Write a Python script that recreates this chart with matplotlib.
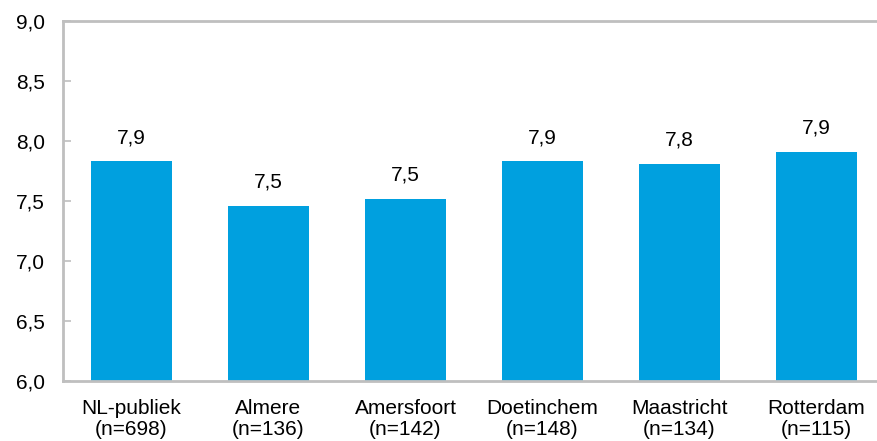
import matplotlib
matplotlib.use("Agg")
from matplotlib import pyplot as plt

# data
categories = ["NL-publiek\n(n=698)", "Almere\n(n=136)", "Amersfoort\n(n=142)",
              "Doetinchem\n(n=148)", "Maastricht\n(n=134)", "Rotterdam\n(n=115)"]
scores = [7.83, 7.46, 7.52, 7.83, 7.81, 7.91]
score_labels = ["7,9", "7,5", "7,5", "7,9", "7,8", "7,9"]
yticks = [6.0, 6.5, 7.0, 7.5, 8.0, 8.5, 9.0]
ytick_labels = ["6,0", "6,5", "7,0", "7,5", "8,0", "8,5", "9,0"]

plt.rcParams['font.family'] = ['Liberation Sans', 'DejaVu Sans']

fig = plt.figure(figsize=(8.77, 4.41), dpi=100)
# axes runs past the right edge, like the cropped original
ax = fig.add_axes([63 / 877, 60 / 441, 822 / 877, 360 / 441])

x = range(len(categories))
bars = ax.bar(x, scores, width=0.59, bottom=0, color='#00A0DF', zorder=2)

for xi, val, lab in zip(x, scores, score_labels):
    ax.annotate(lab, (xi, val), xytext=(0, 13), textcoords='offset points',
                ha='center', va='baseline', fontsize=15, color='black')

ax.set_xlim(-0.5, 5.5)
ax.set_ylim(6.0, 9.0)
ax.set_yticks(yticks)
ax.set_yticklabels(ytick_labels)
ax.set_xticks(list(x))
ax.set_xticklabels(categories, linespacing=1.1)

for s in ax.spines.values():
    s.set_color('#BFBFBF')
    s.set_linewidth(2)

ax.tick_params(axis='y', direction='in', length=6, width=1.2, color='#BFBFBF',
               labelsize=15, pad=13, labelcolor='black')
ax.tick_params(axis='x', length=0, labelsize=15, pad=13, labelcolor='black')

fig.savefig('out.png', dpi=100)
